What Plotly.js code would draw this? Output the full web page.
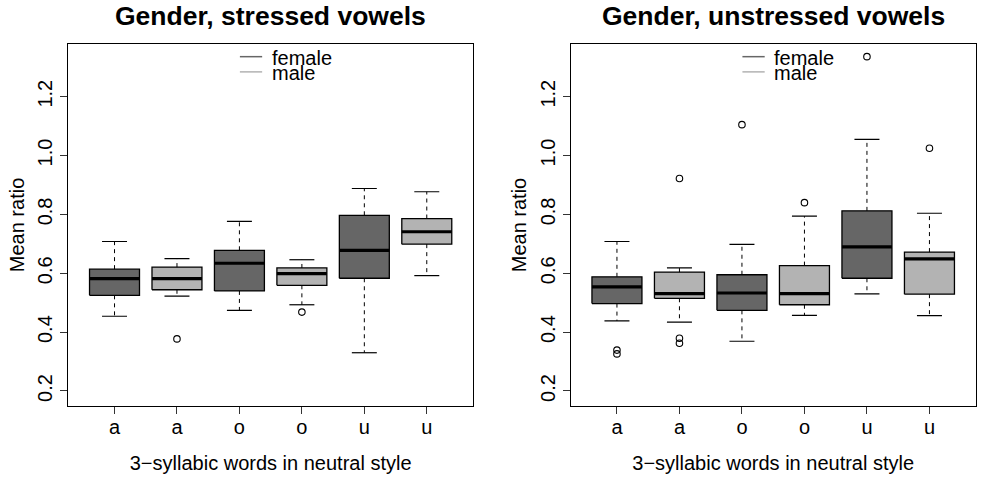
<!DOCTYPE html>
<html>
<head>
<meta charset="utf-8">
<script src="https://cdn.plot.ly/plotly-3.0.1.min.js"></script>
<style>html,body{margin:0;padding:0;background:#fff;}#chart{width:984px;height:483px;}</style>
</head>
<body>
<div id="chart"></div>
<script>
// ---- data ----
const categories = ['a', 'a', 'o', 'o', 'u', 'u'];
const genders = ['female', 'male', 'female', 'male', 'female', 'male'];
const positions = [1, 2, 3, 4, 5, 6];

// Stressed vowels: lower whisker, Q1, median, Q3, upper whisker
const stressedLow = [0.454, 0.522, 0.474, 0.493, 0.330, 0.592];
const stressedQ1 = [0.525, 0.544, 0.540, 0.559, 0.583, 0.699];
const stressedMedian = [0.582, 0.582, 0.634, 0.599, 0.678, 0.741];
const stressedQ3 = [0.614, 0.621, 0.678, 0.618, 0.797, 0.786];
const stressedHigh = [0.708, 0.650, 0.776, 0.646, 0.888, 0.877];
const stressedOutlierPos = [2, 4];
const stressedOutlierVal = [0.377, 0.468];

// Unstressed vowels
const unstressedLow = [0.438, 0.434, 0.369, 0.457, 0.530, 0.456];
const unstressedQ1 = [0.497, 0.515, 0.474, 0.493, 0.583, 0.529];
const unstressedMedian = [0.554, 0.531, 0.533, 0.531, 0.690, 0.649];
const unstressedQ3 = [0.588, 0.604, 0.595, 0.626, 0.812, 0.672];
const unstressedHigh = [0.708, 0.618, 0.698, 0.794, 1.055, 0.804];
const unstressedOutlierPos = [1, 1, 2, 2, 2, 3, 4, 5, 6];
const unstressedOutlierVal = [0.339, 0.326, 0.922, 0.379, 0.362, 1.105, 0.840, 1.336, 1.025];

const yTicks = [0.2, 0.4, 0.6, 0.8, 1.0, 1.2];
const yTickText = ['0.2', '0.4', '0.6', '0.8', '1.0', '1.2'];
const legendLabels = ['female', 'male'];
const titles = ['Gender, stressed vowels', 'Gender, unstressed vowels'];
const xTitle = '3\u2212syllabic words in neutral style';
const yTitle = 'Mean ratio';

// ---- styles ----
const colors = { female: '#666666', male: '#b3b3b3' };
const FONT = '"Liberation Sans", Arial, Helvetica, sans-serif';
const HALF = 0.4, CAP = 0.2;
const FS = 20;

function panelTraces(low, q1, med, q3, high, oPos, oVal, xa, ya) {
  const traces = [];
  ['female', 'male'].forEach(g => {
    const xs = [], ys = [];
    positions.forEach((p, i) => {
      if (genders[i] !== g) return;
      xs.push(p - HALF, p + HALF, p + HALF, p - HALF, p - HALF, null);
      ys.push(q1[i], q1[i], q3[i], q3[i], q1[i], null);
    });
    traces.push({
      type: 'scatter', mode: 'lines', x: xs, y: ys, xaxis: xa, yaxis: ya,
      fill: 'toself', fillcolor: colors[g], line: { color: '#000', width: 1.3 },
      showlegend: false, hoverinfo: 'skip'
    });
  });
  // whiskers (dashed)
  const wx = [], wy = [];
  positions.forEach((p, i) => {
    wx.push(p, p, null, p, p, null);
    wy.push(q3[i], high[i], null, q1[i], low[i], null);
  });
  traces.push({ type: 'scatter', mode: 'lines', x: wx, y: wy, xaxis: xa, yaxis: ya,
    line: { color: '#000', width: 1, dash: '4px,4px' }, showlegend: false, hoverinfo: 'skip' });
  // staples
  const sx = [], sy = [];
  positions.forEach((p, i) => {
    sx.push(p - CAP, p + CAP, null, p - CAP, p + CAP, null);
    sy.push(high[i], high[i], null, low[i], low[i], null);
  });
  traces.push({ type: 'scatter', mode: 'lines', x: sx, y: sy, xaxis: xa, yaxis: ya,
    line: { color: '#000', width: 1.2 }, showlegend: false, hoverinfo: 'skip' });
  // medians
  const mx = [], my = [];
  positions.forEach((p, i) => {
    mx.push(p - HALF, p + HALF, null);
    my.push(med[i], med[i], null);
  });
  traces.push({ type: 'scatter', mode: 'lines', x: mx, y: my, xaxis: xa, yaxis: ya,
    line: { color: '#000', width: 3.2 }, showlegend: false, hoverinfo: 'skip' });
  // outliers
  traces.push({ type: 'scatter', mode: 'markers', x: oPos, y: oVal, xaxis: xa, yaxis: ya,
    marker: { symbol: 'circle-open', size: 6.5, color: '#000', line: { width: 1.1, color: '#000' } },
    showlegend: false, hoverinfo: 'skip' });
  return traces;
}

const data = [].concat(
  panelTraces(stressedLow, stressedQ1, stressedMedian, stressedQ3, stressedHigh, stressedOutlierPos, stressedOutlierVal, 'x', 'y'),
  panelTraces(unstressedLow, unstressedQ1, unstressedMedian, unstressedQ3, unstressedHigh, unstressedOutlierPos, unstressedOutlierVal, 'x2', 'y2')
);

function xAxis(domain, anchor) {
  return {
    domain: domain, anchor: anchor, range: [0.26, 6.74], showgrid: false, zeroline: false,
    showline: true, mirror: true, linecolor: '#000', linewidth: 1,
    tickmode: 'array', tickvals: positions, ticktext: categories,
    ticks: 'outside', ticklen: 7, tickcolor: '#333', tickwidth: 1, ticklabelstandoff: -4,
    tickfont: { family: FONT, size: FS, color: '#000' },
    title: { text: xTitle, font: { family: FONT, size: FS, color: '#000' }, standoff: 18 }
  };
}
function yAxis(anchor) {
  return {
    anchor: anchor, domain: [0, 1], range: [0.149, 1.379], showgrid: false, zeroline: false,
    showline: true, mirror: true, linecolor: '#000', linewidth: 1,
    tickmode: 'array', tickvals: yTicks, ticktext: yTickText, tickangle: -90,
    ticks: 'outside', ticklen: 7, tickcolor: '#333', tickwidth: 1,
    tickfont: { family: FONT, size: FS, color: '#000' },
    title: { text: yTitle, font: { family: FONT, size: FS, color: '#000' }, standoff: 4 }
  };
}

const annotations = [];
const shapes = [];
[['x', 'y'], ['x2', 'y2']].forEach((ax, k) => {
  annotations.push({
    xref: ax[0] + ' domain', yref: ax[1] + ' domain', x: 0.5, y: 1.077,
    xanchor: 'center', yanchor: 'middle', showarrow: false,
    text: '<b>' + titles[k] + '</b>', font: { family: FONT, size: 26.5, color: '#000' }
  });
  const ly = [0.965, 0.923];
  legendLabels.forEach((lab, j) => {
    shapes.push({ type: 'line', xref: ax[0] + ' domain', yref: ax[1] + ' domain',
      x0: 0.424, x1: 0.479, y0: ly[j], y1: ly[j], line: { color: colors[lab], width: 1.5 } });
    annotations.push({
      xref: ax[0] + ' domain', yref: ax[1] + ' domain', x: 0.498, y: ly[j] - 0.004,
      xanchor: 'left', yanchor: 'middle', showarrow: false, text: lab,
      font: { family: FONT, size: FS, color: '#000' }
    });
  });
});

const layout = {
  width: 984, height: 483,
  margin: { l: 0, r: 0, t: 44, b: 77, pad: 0 },
  paper_bgcolor: '#fff', plot_bgcolor: '#fff',
  showlegend: false,
  xaxis: xAxis([68.3 / 984, 473 / 984], 'y'),
  yaxis: yAxis('x'),
  xaxis2: xAxis([570.7 / 984, 975.7 / 984], 'y2'),
  yaxis2: yAxis('x2'),
  annotations: annotations,
  shapes: shapes
};

Plotly.newPlot('chart', data, layout, { staticPlot: true, displayModeBar: false });
</script>
</body>
</html>
